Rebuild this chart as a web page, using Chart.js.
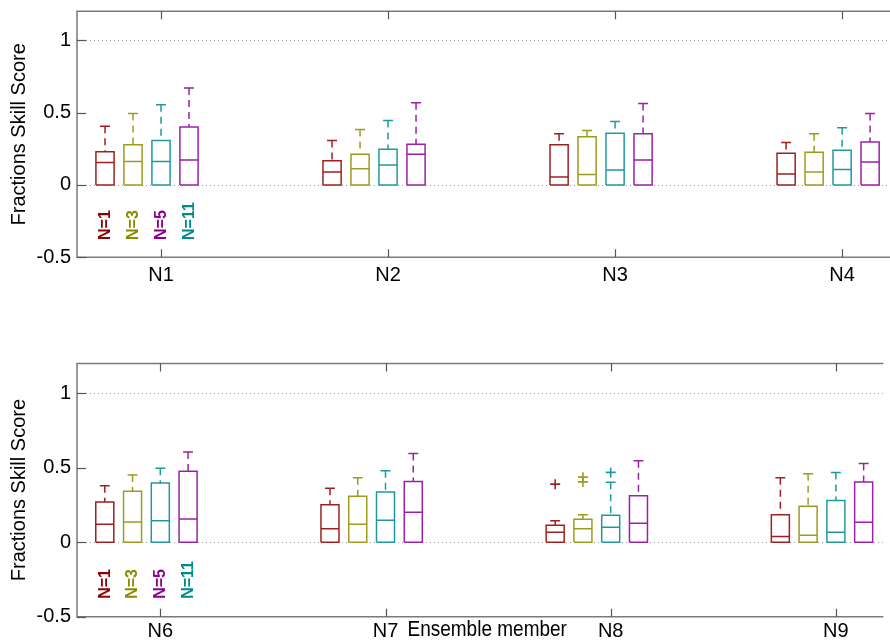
<!DOCTYPE html>
<html><head><meta charset="utf-8">
<script src="https://cdn.jsdelivr.net/npm/chart.js@4/dist/chart.umd.min.js"></script>
<style>
html,body{margin:0;padding:0;background:#fff;}
#wrap{position:relative;width:890px;height:642px;overflow:hidden;background:#fff;}
canvas{position:absolute;left:0;}
#c1{top:0;}
#c2{top:321px;}
</style></head><body>
<div id="wrap"><canvas id="c1" width="890" height="321"></canvas><canvas id="c2" width="890" height="321"></canvas></div>
<script>
// ---------------- data ----------------
const seriesLabels = ['N=1', 'N=3', 'N=5', 'N=11'];
const topMembers = ['N1', 'N2', 'N3', 'N4'];
const bottomMembers = ['N6', 'N7', 'N8', 'N9'];
const yTickValues = [-0.5, 0, 0.5, 1];
const yTickLabels = ['-0.5', '0', '0.5', '1'];
const gridValues = [0, 1];
const yAxisTitle = 'Fractions Skill Score';
const xAxisTitle = 'Ensemble member';

// rows: N=1, N=3, N=5, N=11 ; columns: ensemble members
const topWhiskerLow = [[0,0,0,0],[0,0,0,0],[0,0,0,0],[0,0,0,0]];
const topQ1 = [[0,0,0,0],[0,0,0,0],[0,0,0,0],[0,0,0,0]];
const topMedian = [
  [0.155, 0.089, 0.055, 0.075],
  [0.162, 0.112, 0.073, 0.089],
  [0.162, 0.137, 0.103, 0.107],
  [0.173, 0.212, 0.173, 0.158]];
const topQ3 = [
  [0.230, 0.168, 0.278, 0.219],
  [0.278, 0.212, 0.333, 0.226],
  [0.308, 0.247, 0.358, 0.240],
  [0.400, 0.281, 0.353, 0.297]];
const topWhiskerHigh = [
  [0.405, 0.308, 0.353, 0.294],
  [0.493, 0.384, 0.377, 0.353],
  [0.555, 0.445, 0.438, 0.395],
  [0.670, 0.568, 0.562, 0.493]];

const bottomWhiskerLow = [[0,0,0,0],[0,0,0,0],[0,0,0,0],[0,0,0,0]];
const bottomQ1 = [[0,0,0,0],[0,0,0,0],[0,0,0,0],[0,0,0,0]];
const bottomMedian = [
  [0.120, 0.091, 0.067, 0.038],
  [0.136, 0.120, 0.091, 0.047],
  [0.145, 0.147, 0.100, 0.067],
  [0.156, 0.201, 0.127, 0.134]];
const bottomQ3 = [
  [0.270, 0.252, 0.114, 0.185],
  [0.342, 0.308, 0.154, 0.241],
  [0.397, 0.337, 0.181, 0.281],
  [0.476, 0.408, 0.312, 0.404]];
const bottomWhiskerHigh = [
  [0.379, 0.362, 0.145, 0.433],
  [0.451, 0.433, 0.185, 0.460],
  [0.496, 0.480, 0.402, 0.469],
  [0.605, 0.596, 0.547, 0.529]];
// outliers (series index, member index, value)
const topOutlierSeries = [];
const topOutlierMember = [];
const topOutlierValue = [];
const bottomOutlierSeries = [0, 1, 1, 2];
const bottomOutlierMember = [2, 2, 2, 2];
const bottomOutlierValue = [0.390, 0.437, 0.405, 0.469];

// ---------------- styles ----------------
const boxColors = ['#9e2020', '#9c9c20', '#20999c', '#9a20a8'];
const labelColors = ['#8b0000', '#8b8b00', '#8b008b', '#008b8b'];
const SERIES_STEP = 0.1233, BOX_HALF = 0.04, CAP_HALF = 0.022;
const LABEL_Y = -0.38;
const FONT = "'Liberation Sans', Arial, Helvetica, sans-serif";
Chart.defaults.font.family = FONT;
Chart.defaults.color = '#000';

function lineDs(data, color, dash) {
  return {data, showLine: true, borderColor: color, backgroundColor: color, borderWidth: 1.5,
    borderDash: dash, pointRadius: 0, pointHoverRadius: 0, fill: false, spanGaps: false,
    tension: 0, borderCapStyle: 'butt', borderJoinStyle: 'miter'};
}
function buildDatasets(wLo, q1, med, q3, wHi, oS, oM, oV) {
  const ds = [];
  for (let s = 0; s < seriesLabels.length; s++) {
    const box = [], medL = [], whisk = [], caps = [];
    for (let g = 0; g < 4; g++) {
      const x = g + 1 + (s - 2) * SERIES_STEP;
      const a = q1[s][g], b = q3[s][g];
      box.push({x: x - BOX_HALF, y: a}, {x: x + BOX_HALF, y: a}, {x: x + BOX_HALF, y: b},
               {x: x - BOX_HALF, y: b}, {x: x - BOX_HALF, y: a}, {x: x, y: null});
      medL.push({x: x - BOX_HALF, y: med[s][g]}, {x: x + BOX_HALF, y: med[s][g]}, {x: x, y: null});
      whisk.push({x: x, y: wHi[s][g]}, {x: x, y: b}, {x: x, y: null});
      whisk.push({x: x, y: wLo[s][g]}, {x: x, y: a}, {x: x, y: null});
      caps.push({x: x - CAP_HALF, y: wHi[s][g]}, {x: x + CAP_HALF, y: wHi[s][g]}, {x: x, y: null});
    }
    const c = boxColors[s];
    ds.push(lineDs(box, c, []), lineDs(medL, c, []), lineDs(whisk, c, [7, 5]), lineDs(caps, c, []));
    const outs = [];
    for (let k = 0; k < oV.length; k++) {
      if (oS[k] === s) outs.push({x: oM[k] + 1 + (s - 2) * SERIES_STEP, y: oV[k]});
    }
    ds.push({data: outs, showLine: false, pointStyle: 'cross', pointRadius: 5, pointHoverRadius: 5,
      borderColor: c, backgroundColor: c, pointBorderWidth: 1.6});
  }
  return ds;
}

const framePlugin = {
  id: 'frame',
  beforeDatasetsDraw(chart) {
    const {ctx, chartArea: ca, scales: {x, y}} = chart;
    ctx.save();
    // dotted grid
    ctx.strokeStyle = '#9a9a9a'; ctx.lineWidth = 1; ctx.setLineDash([1, 3]);
    gridValues.forEach(v => {
      const py = Math.round(y.getPixelForValue(v)) + 0.5;
      ctx.beginPath(); ctx.moveTo(ca.left + 9, py); ctx.lineTo(ca.right, py); ctx.stroke();
    });
    ctx.setLineDash([]);
    // frame
    ctx.strokeStyle = '#7a7a7a'; ctx.lineWidth = 1.5;
    ctx.beginPath();
    ctx.moveTo(ca.right, ca.top); ctx.lineTo(ca.left, ca.top); ctx.lineTo(ca.left, ca.bottom); ctx.lineTo(ca.right, ca.bottom);
    ctx.stroke();
    // inside ticks
    ctx.strokeStyle = '#555'; ctx.lineWidth = 1.2;
    yTickValues.forEach(v => {
      const py = Math.round(y.getPixelForValue(v)) + 0.5;
      ctx.beginPath(); ctx.moveTo(ca.left, py); ctx.lineTo(ca.left + 9, py); ctx.stroke();
    });
    x.ticks.forEach(t => {
      const px = Math.round(x.getPixelForValue(t.value)) + 0.5;
      ctx.beginPath(); ctx.moveTo(px, ca.bottom); ctx.lineTo(px, ca.bottom - 8);
      ctx.moveTo(px, ca.top); ctx.lineTo(px, ca.top + 8); ctx.stroke();
    });
    ctx.restore();
  },
  afterDatasetsDraw(chart) {
    const {ctx, scales: {x, y}} = chart;
    ctx.save();
    ctx.font = 'bold 16px ' + FONT;
    ctx.textAlign = 'left'; ctx.textBaseline = 'middle';
    seriesLabels.forEach((lab, s) => {
      const px = x.getPixelForValue(1 + (s - 2) * SERIES_STEP);
      const py = y.getPixelForValue(LABEL_Y);
      ctx.save(); ctx.translate(px, py); ctx.rotate(-Math.PI / 2);
      ctx.fillStyle = labelColors[s]; ctx.fillText(lab, 0, 0.5);
      ctx.restore();
    });
    ctx.restore();
  }
};

const xTitlePlugin = {
  id: 'xtitle',
  afterDraw(chart) {
    if (!chart.options.plugins.xtitle || !chart.options.plugins.xtitle.show) return;
    const {ctx, chartArea: ca} = chart;
    ctx.save();
    ctx.font = '19px ' + FONT; ctx.fillStyle = '#000';
    ctx.textAlign = 'center'; ctx.textBaseline = 'alphabetic';
    ctx.translate((ca.left + ca.right) / 2 + 7, ca.bottom + 19);
    ctx.scale(1, 1.2);
    ctx.fillText(xAxisTitle, 0, 0);
    ctx.restore();
  }
};

function makeChart(id, members, padTop, xHeight, tickPad, sets, showXTitle) {
  return new Chart(document.getElementById(id), {
    type: 'scatter',
    data: {datasets: sets},
    options: {
      responsive: false, animation: false, devicePixelRatio: 1,
      layout: {padding: {top: padTop, left: 0, right: 0, bottom: 0}},
      plugins: {legend: {display: false}, tooltip: {enabled: false}, xtitle: {show: showXTitle}},
      events: [],
      scales: {
        x: {
          type: 'linear', min: 0.63, max: 4.211,
          afterBuildTicks: a => { a.ticks = members.map((m, i) => ({value: i + 1})); },
          afterFit: a => { a.height = xHeight; a.paddingLeft = 0; a.paddingRight = 0; },
          ticks: {callback: v => members[Math.round(v) - 1], autoSkip: false, maxRotation: 0, minRotation: 0,
            padding: tickPad, font: {size: 20}, color: '#000'},
          grid: {display: false, drawTicks: false}, border: {display: false}
        },
        y: {
          type: 'linear', min: -0.5, max: 1.2,
          afterBuildTicks: a => { a.ticks = yTickValues.map(v => ({value: v})); },
          afterFit: a => { a.width = 77; a.paddingTop = 0; a.paddingBottom = 0; },
          ticks: {callback: v => yTickLabels[yTickValues.indexOf(v)], padding: 6, font: {size: 20}, color: '#000'},
          grid: {display: false, drawTicks: false}, border: {display: false},
          title: {display: true, text: yAxisTitle, font: {size: 20}, color: '#000', padding: {top: 7, bottom: 0}}
        }
      }
    },
    plugins: [framePlugin, xTitlePlugin]
  });
}

makeChart('c1', topMembers, 11.3, 63.7, 6,
  buildDatasets(topWhiskerLow, topQ1, topMedian, topQ3, topWhiskerHigh, topOutlierSeries, topOutlierMember, topOutlierValue), false);
makeChart('c2', bottomMembers, 42.5, 25.3, 3,
  buildDatasets(bottomWhiskerLow, bottomQ1, bottomMedian, bottomQ3, bottomWhiskerHigh, bottomOutlierSeries, bottomOutlierMember, bottomOutlierValue), true);
</script>
</body></html>
